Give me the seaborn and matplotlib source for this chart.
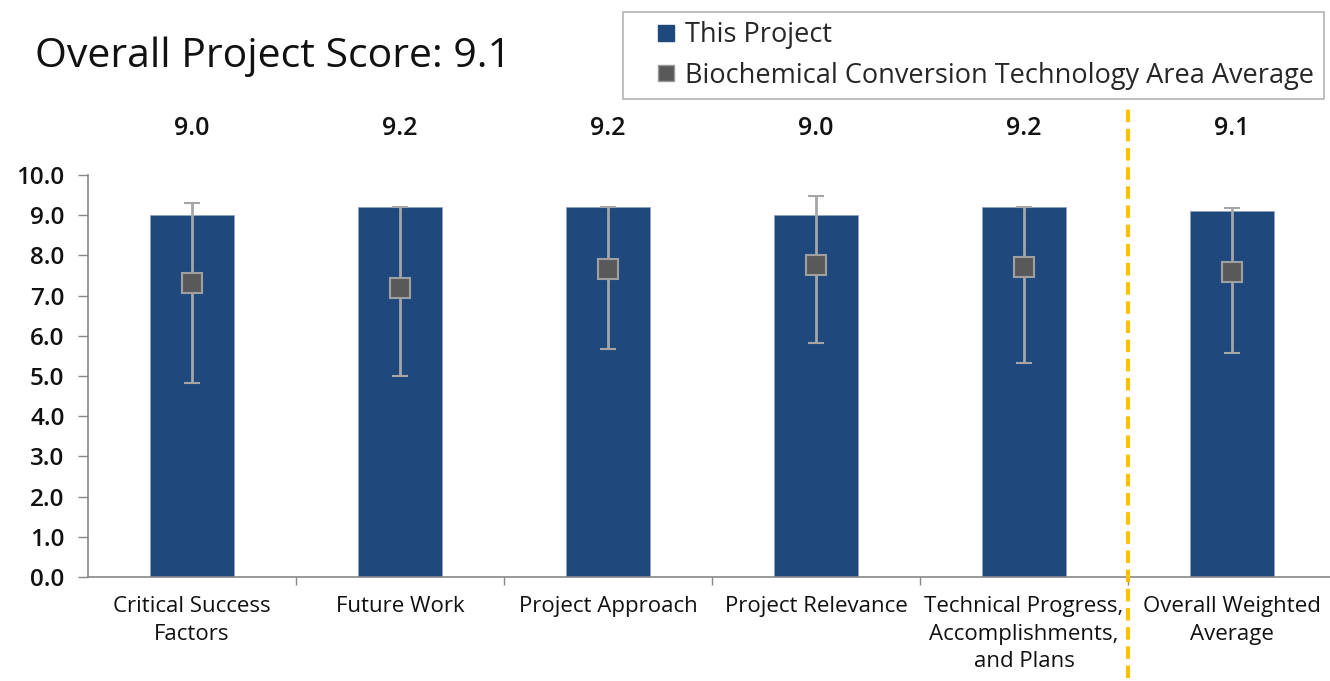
import matplotlib
matplotlib.use("Agg")
import matplotlib.pyplot as plt
from matplotlib.lines import Line2D
import seaborn as sns
import pandas as pd

# Data
categories = ["Critical Success\nFactors", "Future Work", "Project Approach",
              "Project Relevance", "Technical Progress,\nAccomplishments,\nand Plans",
              "Overall Weighted\nAverage"]
project_scores = [9.0, 9.2, 9.2, 9.0, 9.2, 9.1]
area_avg = [7.32, 7.19, 7.66, 7.76, 7.70, 7.58]
area_min = [4.83, 5.00, 5.67, 5.82, 5.33, 5.57]
area_max = [9.31, 9.20, 9.20, 9.48, 9.21, 9.18]
overall_score = 9.1

BLUE = "#1F497D"
MARKER = "#595959"
ERR = "#A6A6A6"
GOLD = "#FFC000"

sns.set_style("white")
plt.rcParams['font.family'] = ['Open Sans', 'DejaVu Sans']

df = pd.DataFrame({"category": categories, "score": project_scores})

fig = plt.figure(figsize=(13.3, 6.81), dpi=100)
ax = fig.add_axes([88 / 1330, (681 - 577) / 681, (1336 - 88) / 1330, (577 - 175) / 681])

sns.barplot(data=df, x="category", y="score", color=BLUE, width=0.4,
            saturation=1, edgecolor="#8EA3BF", linewidth=0.6, ax=ax)

xs = list(range(len(categories)))
lower = [a - lo for a, lo in zip(area_avg, area_min)]
upper = [hi - a for a, hi in zip(area_avg, area_max)]
ax.errorbar(xs, area_avg, yerr=[lower, upper], fmt="s", color=ERR, ecolor=ERR,
            elinewidth=2, capsize=6, capthick=2, markersize=14,
            markerfacecolor=MARKER, markeredgecolor="#A0A0A0", markeredgewidth=1.5, zorder=5)

# value labels above the plot
for x, v in zip(xs, project_scores):
    ax.text(x, 11.15, f"{v:.1f}", ha="center", va="center", fontsize=18,
            fontweight="semibold", color="#111111", clip_on=False)

# dashed separator before the overall average
ax.axvline(4.5, ymin=-0.25, ymax=1.17, color=GOLD, linestyle=(0, (3, 1.6)),
           linewidth=3, clip_on=False, zorder=6)

ax.set_ylim(0, 10)
ax.set_xlim(-0.5, 5.5)
ax.set_yticks([i for i in range(11)])
ax.set_yticklabels([f"{i:.1f}" for i in range(11)], fontsize=17.5,
                   fontweight="semibold", color="#111111")
ax.set_xticks(xs)
ax.set_xticklabels(categories, fontsize=16, linespacing=1.4, color="#111111")
ax.set_xlabel("")
ax.set_ylabel("")
ax.tick_params(axis="y", length=7, color="#888888", width=1, pad=10, left=True)
ax.tick_params(axis="x", length=0, pad=14)
# minor ticks at category boundaries
ax.set_xticks([i + 0.5 for i in range(5)], minor=True)
ax.tick_params(axis="x", which="minor", length=6, color="#888888", width=1, bottom=True)
for s in ["top", "right"]:
    ax.spines[s].set_visible(False)
for s in ["left", "bottom"]:
    ax.spines[s].set_color("#888888")
    ax.spines[s].set_linewidth(1.2)

fig.text(35 / 1330, 1 - 57 / 681, f"Overall Project Score: {overall_score}",
         fontsize=29.5, fontweight="medium", va="center", ha="left", color="#111111")

handles = [
    Line2D([], [], marker="s", linestyle="", markersize=11, markerfacecolor=BLUE,
           markeredgecolor=BLUE),
    Line2D([], [], marker="s", linestyle="", markersize=11, markerfacecolor=MARKER,
           markeredgecolor="#999999"),
]
leg = fig.legend(handles, ["This Project", "Biochemical Conversion Technology Area Average"],
                 loc="upper left", bbox_to_anchor=(623 / 1330, 1 - 12 / 681),
                 frameon=True, fancybox=False, fontsize=19.5, handletextpad=-0.55,
                 handlelength=2.5, borderpad=0.35, labelspacing=0.45,
                 borderaxespad=0)
leg.get_frame().set_edgecolor("#A0A0A0")
leg.get_frame().set_linewidth(1.2)

fig.savefig("out.png", dpi=100)
